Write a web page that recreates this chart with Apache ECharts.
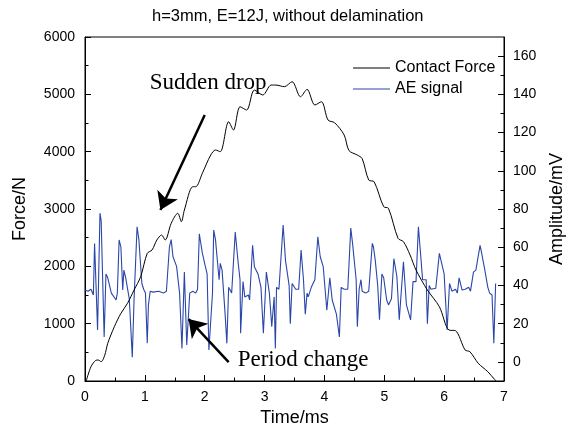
<!DOCTYPE html>
<html>
<head>
<meta charset="utf-8">
<script src="https://cdn.jsdelivr.net/npm/echarts@6/dist/echarts.min.js"></script>
<style>
  html, body { margin: 0; padding: 0; background: #fff; }
  #main { width: 574px; height: 433px; }
</style>
</head>
<body>
<div id="main"></div>
<script>
// contact force (N)
var forceTime = [0.02, 0.10, 0.18, 0.22, 0.27, 0.33, 0.38, 0.49, 0.60, 0.71, 0.82, 0.93, 1.04, 1.12, 1.20, 1.28, 1.34, 1.44, 1.55, 1.61, 1.66, 1.80, 1.85, 1.96, 2.10, 2.18, 2.26, 2.40, 2.48, 2.59, 2.70, 2.83, 2.97, 3.11, 3.19, 3.33, 3.46, 3.60, 3.71, 3.84, 3.95, 4.06, 4.17, 4.33, 4.41, 4.55, 4.63, 4.74, 4.83, 4.99, 5.07, 5.23, 5.32, 5.43, 5.53, 5.72, 5.92, 6.08, 6.19, 6.35, 6.43, 6.57, 6.73, 6.84, 6.87];
var forceValue = [0, 250, 360, 366, 337, 450, 657, 947, 1180, 1355, 1587, 1819, 2227, 2285, 2459, 2546, 2459, 2750, 2925, 2778, 2982, 3389, 3389, 3622, 3941, 4029, 4000, 4522, 4377, 4784, 4726, 5075, 4988, 5162, 5162, 5133, 5220, 4958, 5087, 4814, 4871, 4552, 4505, 4290, 4020, 3941, 3880, 3505, 3476, 3040, 3012, 2488, 2430, 2200, 1936, 1587, 1296, 889, 877, 541, 511, 309, 162, 30, 0];

// AE signal (mV)
var aeTime = [0.00, 0.05, 0.10, 0.14, 0.16, 0.19, 0.21, 0.25, 0.27, 0.32, 0.35, 0.38, 0.44, 0.46, 0.52, 0.54, 0.57, 0.60, 0.63, 0.65, 0.68, 0.74, 0.79, 0.82, 0.87, 0.90, 0.95, 0.98, 1.01, 1.04, 1.06, 1.09, 1.14, 1.23, 1.31, 1.36, 1.39, 1.41, 1.44, 1.47, 1.53, 1.58, 1.62, 1.66, 1.70, 1.75, 1.80, 1.85, 1.88, 1.91, 1.93, 1.96, 2.01, 2.04, 2.07, 2.13, 2.15, 2.18, 2.24, 2.26, 2.29, 2.34, 2.37, 2.40, 2.45, 2.51, 2.54, 2.56, 2.59, 2.60, 2.64, 2.67, 2.73, 2.75, 2.80, 2.83, 2.89, 2.94, 2.98, 3.03, 3.08, 3.12, 3.16, 3.18, 3.20, 3.24, 3.31, 3.35, 3.41, 3.43, 3.46, 3.52, 3.57, 3.61, 3.65, 3.68, 3.71, 3.73, 3.78, 3.84, 3.89, 3.93, 3.98, 4.04, 4.09, 4.13, 4.20, 4.25, 4.28, 4.33, 4.39, 4.44, 4.47, 4.53, 4.55, 4.58, 4.61, 4.63, 4.69, 4.74, 4.80, 4.82, 4.85, 4.89, 4.92, 4.96, 4.99, 5.04, 5.07, 5.12, 5.16, 5.21, 5.25, 5.32, 5.37, 5.40, 5.44, 5.48, 5.53, 5.57, 5.61, 5.64, 5.70, 5.72, 5.75, 5.78, 5.86, 5.92, 5.94, 6.00, 6.05, 6.09, 6.13, 6.19, 6.22, 6.25, 6.30, 6.35, 6.41, 6.44, 6.49, 6.53, 6.56, 6.60, 6.62, 6.68, 6.73, 6.76, 6.80, 6.83, 6.86];
var aeValue = [37.6, 37, 38, 35, 62, 63, 16.7, 77.8, 74, 13, 46, 44, 36, 35, 32.4, 36, 63.8, 60, 37.6, 48, 44, 33, 2.5, 33, 70.7, 64, 41, 38, 36, 9.7, 30, 37, 36.5, 37, 36, 37, 38, 60, 64, 55, 50, 36, 7, 47, 8.8, 36, 37, 36, 38, 67, 63, 57, 50, 46, 6.2, 36, 69, 64, 43, 51.6, 48, 25.4, 9.7, 39, 36, 68, 58, 51.6, 42.9, 15, 42, 34, 35, 32.4, 61, 49.8, 46, 39, 15, 47, 36, 18.4, 34, 7, 39, 38, 71.6, 53, 40, 20, 41, 38, 38, 58.5, 43, 25, 36, 34, 39, 43, 65.5, 55, 49.8, 27, 44, 32.4, 25, 13, 39, 38, 38, 70, 62, 43, 18.4, 38, 43, 37, 36, 37, 62, 60, 53, 40, 22, 46, 44, 32.4, 29.8, 33, 54, 44.8, 22, 52.4, 29.8, 29, 22, 42, 42, 70.7, 55, 43, 43, 20, 40, 38, 38.5, 56.8, 57, 46, 16.7, 41, 37, 38, 36, 44, 37.6, 38, 39, 37, 47, 48, 47, 61, 58, 48, 39, 36, 35, 9.7, 41];

// tick positions
var timeTicks = [0, 1, 2, 3, 4, 5, 6, 7];
var timeMinorTicks = [0.5, 1.5, 2.5, 3.5, 4.5, 5.5, 6.5];
var forceTicks = [0, 1000, 2000, 3000, 4000, 5000, 6000];
var forceMinorTicks = [500, 1500, 2500, 3500, 4500, 5500];
var ampTicks = [0, 20, 40, 60, 80, 100, 120, 140, 160];
var ampMinorTicks = [10, 30, 50, 70, 90, 110, 130, 150];

var myChart = echarts.init(document.getElementById('main'));

var zip = function (a, b) {
    var res = [];
    for (var i = 0; i < a.length; i++) {
        res.push([a[i], b[i]]);
    }
    return res;
};

var sans = 'Liberation Sans, Arial, sans-serif';
var serif = 'Liberation Serif, Times New Roman, serif';
var plain = function (v) { return String(v); };

// an invisible axis that only carries the short minor ticks
var minorAxis = function (base, ticks) {
    return {
        type: 'value',
        position: base.position,
        min: base.min,
        max: base.max,
        axisLine: { show: false, onZero: false },
        axisTick: { show: true, inside: true, length: 3.5, customValues: ticks, lineStyle: { color: '#000', width: 1 } },
        axisLabel: { show: false },
        splitLine: { show: false }
    };
};

var xMain = {
    type: 'value',
    position: 'bottom',
    min: 0,
    max: 7,
    name: 'Time/ms',
    nameLocation: 'middle',
    nameGap: 27,
    nameTextStyle: { fontSize: 18, color: '#000' },
    axisLine: { show: true, onZero: false, lineStyle: { color: '#000', width: 1 } },
    axisTick: { show: true, inside: true, length: 6, customValues: timeTicks, lineStyle: { color: '#000', width: 1 } },
    axisLabel: { fontSize: 14, color: '#000', margin: 9, customValues: timeTicks, formatter: plain },
    splitLine: { show: false }
};
var yForce = {
    type: 'value',
    position: 'left',
    min: 0,
    max: 6000,
    name: 'Force/N',
    nameLocation: 'middle',
    nameGap: 56,
    nameTextStyle: { fontSize: 18, color: '#000' },
    axisLine: { show: true, onZero: false, lineStyle: { color: '#000', width: 1 } },
    axisTick: { show: true, inside: true, length: 6, customValues: forceTicks, lineStyle: { color: '#000', width: 1 } },
    axisLabel: { fontSize: 14, color: '#000', margin: 10, customValues: forceTicks, formatter: plain },
    splitLine: { show: false }
};
var yAmp = {
    type: 'value',
    position: 'right',
    min: -10,
    max: 170,
    name: 'Amplitude/mV',
    nameLocation: 'middle',
    nameGap: 44,
    nameTextStyle: { fontSize: 18, color: '#000' },
    axisLine: { show: true, onZero: false, lineStyle: { color: '#000', width: 1 } },
    axisTick: { show: true, inside: true, length: 6, customValues: ampTicks, lineStyle: { color: '#000', width: 1 } },
    axisLabel: { fontSize: 14, color: '#000', margin: 9, customValues: ampTicks, formatter: plain },
    splitLine: { show: false }
};

option = {
    animation: false,
    textStyle: { fontFamily: sans },
    title: {
        text: 'h=3mm, E=12J, without delamination',
        left: 147,
        top: 3,
        textStyle: { fontSize: 16.5, fontWeight: 'normal', color: '#000', fontFamily: sans }
    },
    legend: {
        orient: 'vertical',
        left: 348,
        top: 55,
        icon: 'rect',
        itemWidth: 37,
        itemHeight: 1.2,
        itemGap: 5,
        textStyle: { fontSize: 16, lineHeight: 16, color: '#000', fontFamily: sans },
        data: ['Contact Force', 'AE signal']
    },
    grid: {
        left: 85,
        right: 61,
        top: 37,
        bottom: 52,
        show: true,
        borderColor: '#000',
        borderWidth: 1
    },
    xAxis: [xMain, minorAxis(xMain, timeMinorTicks)],
    yAxis: [yForce, yAmp, minorAxis(yForce, forceMinorTicks), minorAxis(yAmp, ampMinorTicks)],
    series: [
        {
            name: 'Contact Force',
            type: 'line',
            yAxisIndex: 0,
            data: zip(forceTime, forceValue),
            symbol: 'none',
            smooth: 0.3,
            lineStyle: { color: '#000', width: 1 },
            itemStyle: { color: '#000' },
            z: 3,
            markLine: {
                silent: true,
                symbol: ['none', 'arrow'],
                symbolSize: 17,
                label: { show: false },
                lineStyle: { color: '#000', width: 2.5, type: 'solid' },
                data: [
                    [{ coord: [2.0, 4640] }, { coord: [1.26, 2983] }],
                    [{ coord: [2.40, 331] }, { coord: [1.73, 1081] }]
                ]
            }
        },
        {
            name: 'AE signal',
            type: 'line',
            yAxisIndex: 1,
            data: zip(aeTime, aeValue),
            symbol: 'none',
            lineStyle: { color: '#2a46a8', width: 1.1 },
            itemStyle: { color: '#2a46a8' },
            z: 2
        }
    ]
};

myChart.setOption(option);

// annotation texts placed at data positions
var p1 = myChart.convertToPixel({ gridIndex: 0 }, [1.08, 5197]);
var p2 = myChart.convertToPixel({ gridIndex: 0 }, [2.55, 366]);
myChart.setOption({
    graphic: [
        {
            type: 'text', x: p1[0], y: p1[1],
            style: { text: 'Sudden drop', font: '23px ' + serif, fill: '#000', verticalAlign: 'middle' }
        },
        {
            type: 'text', x: p2[0], y: p2[1],
            style: { text: 'Period change', font: '23px ' + serif, fill: '#000', verticalAlign: 'middle' }
        }
    ]
});

window.addEventListener("resize", function () {
    myChart.resize();
});
</script>
</body>
</html>
